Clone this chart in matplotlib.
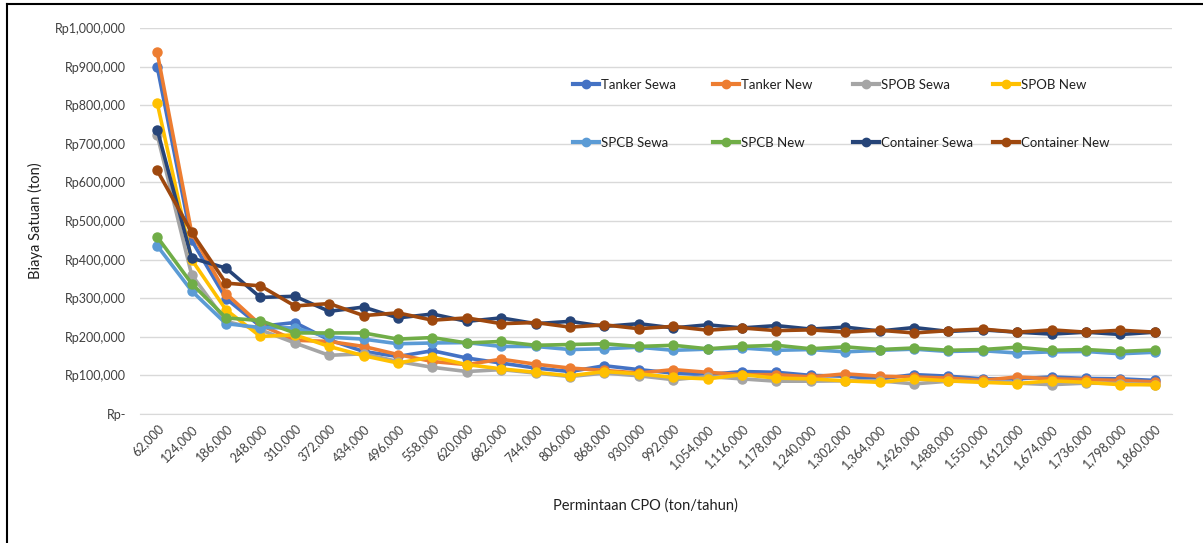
import matplotlib
matplotlib.use("Agg")
import matplotlib.pyplot as plt
from matplotlib.lines import Line2D
from matplotlib.ticker import FuncFormatter

plt.rcParams['font.family'] = ['Lato', 'DejaVu Sans']

demand = [62000 * i for i in range(1, 31)]
x_labels = [f"{d:,}" for d in demand]

tanker_sewa = [900, 450, 299, 227, 237, 192, 162, 149, 164, 145, 132, 119, 110, 125, 115,
               106, 102, 110, 108, 100, 98, 91, 102, 98, 91, 91, 96, 92, 91, 87]
tanker_new = [937, 470, 312, 231, 191, 188, 175, 154, 136, 128, 142, 129, 119, 113, 106,
              115, 108, 102, 102, 96, 104, 98, 96, 93, 87, 96, 91, 89, 87, 83]
spob_sewa = [723, 361, 240, 218, 184, 152, 156, 136, 121, 110, 115, 106, 97, 106, 99,
             89, 97, 91, 85, 85, 86, 86, 78, 85, 84, 80, 76, 80, 79, 76]
spob_new = [806, 400, 270, 201, 205, 175, 151, 132, 148, 128, 117, 108, 99, 110, 104,
            95, 91, 102, 93, 91, 86, 82, 91, 86, 82, 79, 86, 82, 76, 76]
spcb_sewa = [436, 319, 234, 224, 223, 199, 194, 182, 184, 185, 175, 175, 167, 169, 173,
             165, 168, 171, 165, 167, 161, 165, 168, 162, 164, 158, 161, 162, 156, 160]
spcb_new = [459, 338, 249, 242, 210, 210, 210, 194, 198, 184, 188, 178, 180, 182, 175,
            178, 169, 175, 178, 169, 174, 167, 171, 165, 167, 173, 165, 167, 162, 166]
container_sewa = [737, 404, 378, 302, 305, 266, 277, 249, 259, 240, 249, 234, 240, 227, 234,
                  223, 231, 223, 229, 220, 225, 215, 224, 214, 218, 212, 207, 212, 206, 212]
container_new = [631, 471, 339, 332, 280, 286, 255, 262, 243, 249, 234, 237, 225, 231, 221,
                 227, 217, 223, 216, 218, 212, 217, 210, 216, 220, 212, 218, 212, 217, 212]

series_names = ["Tanker Sewa", "Tanker New", "SPOB Sewa", "SPOB New",
                "SPCB Sewa", "SPCB New", "Container Sewa", "Container New"]
series_values = [tanker_sewa, tanker_new, spob_sewa, spob_new,
                 spcb_sewa, spcb_new, container_sewa, container_new]
colors = ["#4472C4", "#ED7D31", "#A5A5A5", "#FFC000",
          "#5B9BD5", "#70AD47", "#264478", "#9E480E"]

fig = plt.figure(figsize=(12.03, 5.43), dpi=100)
ax = fig.add_axes([140/1203, 1-414/543, (1172-140)/1203, (414-28)/543])

xs = list(range(len(demand)))
handles = {}
for name, vals, c in zip(series_names, series_values, colors):
    ys = [v * 1000 for v in vals]
    h, = ax.plot(xs, ys, color=c, lw=2.6, marker='o', markersize=6.5,
                 solid_capstyle='round', solid_joinstyle='round', zorder=3)
    handles[name] = h

ax.set_xlim(-0.5, len(demand) - 0.5)
ax.set_ylim(0, 1000000)
ax.set_yticks(range(0, 1000001, 100000))

def yfmt(v, pos):
    if v == 0:
        return "Rp-"
    return f"Rp{int(v):,}"

ax.yaxis.set_major_formatter(FuncFormatter(yfmt))
ax.set_xticks(xs)
ax.set_xticklabels(x_labels, rotation=45, ha='right', va='top', rotation_mode='anchor')
ax.tick_params(axis='both', length=0, labelsize=9, colors='#404040')
ax.tick_params(axis='y', pad=10)
ax.tick_params(axis='x', pad=6)
ax.grid(axis='y', color='#D9D9D9', lw=1, zorder=0)
for s in ['top', 'right', 'left']:
    ax.spines[s].set_visible(False)
ax.spines['bottom'].set_color('#D9D9D9')
ax.set_axisbelow(True)

fig.text(35/1203, 1-221/543, "Biaya Satuan (ton)", rotation=90, ha='center', va='center',
         fontsize=10.5, color='#202020')
fig.text(645/1203, 1-506/543, "Permintaan CPO (ton/tahun)", ha='center', va='center',
         fontsize=10.5, color='#202020')

# legend: 4 columns, 2 rows
cols = [["Tanker Sewa", "SPCB Sewa"], ["Tanker New", "SPCB New"],
        ["SPOB Sewa", "Container Sewa"], ["SPOB New", "Container New"]]
col_x = [573, 713, 853, 993]
for i, (names, cx) in enumerate(zip(cols, col_x)):
    hs = [Line2D([], [], color=handles[n].get_color(), lw=3, marker='o', markersize=6)
          for n in names]
    leg = ax.legend(hs, names, loc='upper left',
                    bbox_to_anchor=((cx - 140) / 1032, (414 - 79) / 386),
                    frameon=False, fontsize=9.5, handlelength=2.0, handletextpad=0.1,
                    labelspacing=3.45, borderpad=0, borderaxespad=0, labelcolor='#202020')
    if i < len(cols) - 1:
        ax.add_artist(leg)

# outer border (top and left)
fig.add_artist(Line2D([7/1203, 7/1203], [0, 1-4/543], color='black', lw=1.5))
fig.add_artist(Line2D([7/1203, 1], [1-4/543, 1-4/543], color='black', lw=1.5))

fig.savefig("out.png", dpi=100)
